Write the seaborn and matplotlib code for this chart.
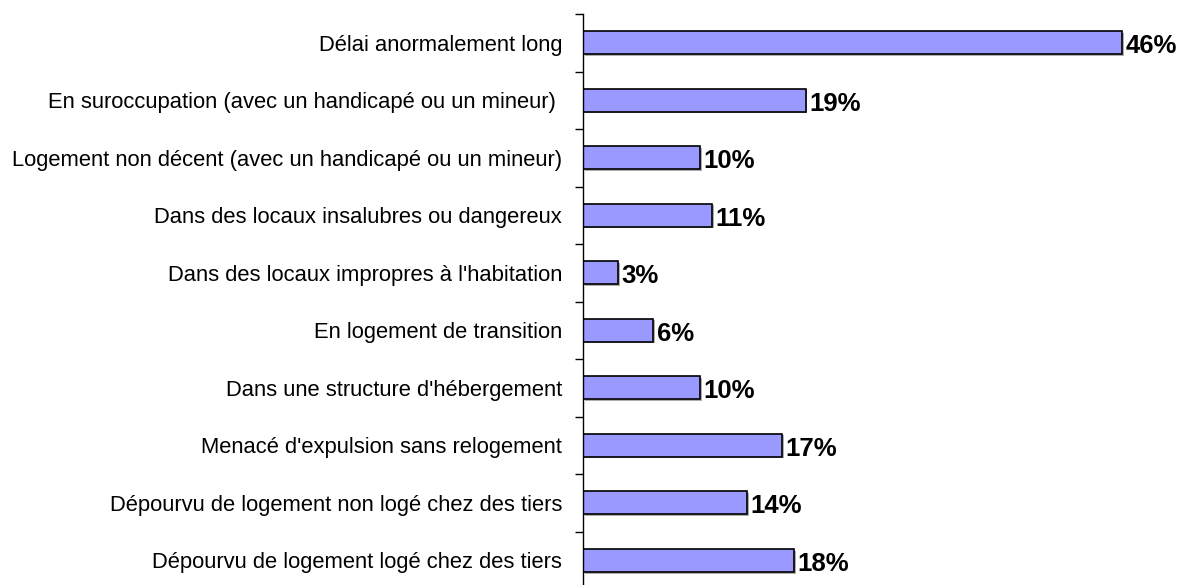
import pandas as pd
import matplotlib.pyplot as plt
import matplotlib.patheffects as pe
import seaborn as sns

# -----------------------------
# Data
# -----------------------------
categories = [
    "Délai anormalement long",
    "En suroccupation (avec un handicapé ou un mineur) ",
    "Logement non décent (avec un handicapé ou un mineur)",
    "Dans des locaux insalubres ou dangereux",
    "Dans des locaux impropres à l'habitation",
    "En logement de transition",
    "Dans une structure d'hébergement",
    "Menacé d'expulsion sans relogement",
    "Dépourvu de logement non logé chez des tiers",
    "Dépourvu de logement logé chez des tiers",
]
values = [46, 19, 10, 11, 3, 6, 10, 17, 14, 18]
labels = ["46%", "19%", "10%", "11%", "3%", "6%", "10%", "17%", "14%", "18%"]

df = pd.DataFrame({"category": categories, "value": values})

# -----------------------------
# Plot
# -----------------------------
sns.set_style("white")
plt.rcParams["font.family"] = ["Liberation Sans", "DejaVu Sans"]

fig = plt.figure(figsize=(11.79, 5.85), dpi=100)
ax = fig.add_axes([0.4945, -0.007, 0.497, 0.983])

sns.barplot(data=df, y="category", x="value", orient="h", color="#9999FF",
            saturation=1, edgecolor="black", linewidth=1.2, width=0.4, ax=ax)

# light drop shadow under each bar
for patch in ax.patches:
    patch.set_path_effects([pe.SimplePatchShadow(offset=(1.2, -1.2), shadow_rgbFace="#999999", alpha=0.8),
                            pe.Normal()])

for i, (v, lab) in enumerate(zip(values, labels)):
    ax.text(v + 0.3, i + 0.06, lab, va="center", ha="left",
            fontsize=18.5, fontweight="bold", color="black")

ax.set_xlim(0, 50)
ax.set_ylim(len(categories) - 0.5, -0.5)
ax.set_xlabel("")
ax.set_ylabel("")
ax.set_xticks([])

for side in ["top", "right", "bottom"]:
    ax.spines[side].set_visible(False)
ax.spines["left"].set_color("black")
ax.spines["left"].set_linewidth(1)

ax.tick_params(axis="y", which="major", length=0, pad=15, labelsize=15.8, labelcolor="black")
ax.set_yticks([i - 0.5 for i in range(len(categories) + 1)], minor=True)
ax.tick_params(axis="y", which="minor", left=True, length=6, width=1, color="black", direction="out")

fig.savefig("out.png", dpi=100)
